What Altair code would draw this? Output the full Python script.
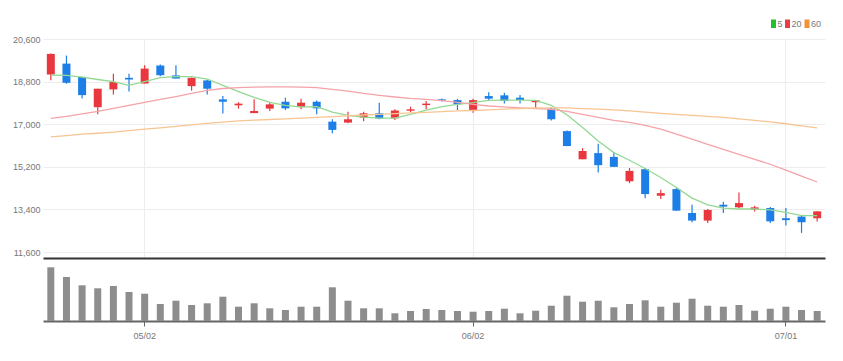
import altair as alt
import pandas as pd

# ---- data ----
dates = ["04/22", "04/25", "04/26", "04/27", "04/28", "04/29", "05/02", "05/03", "05/04", "05/06",
         "05/09", "05/10", "05/11", "05/12", "05/13", "05/16", "05/17", "05/18", "05/19", "05/20",
         "05/23", "05/24", "05/25", "05/26", "05/27", "05/30", "05/31", "06/02", "06/03", "06/07",
         "06/08", "06/09", "06/10", "06/13", "06/14", "06/15", "06/16", "06/17", "06/20", "06/21",
         "06/22", "06/23", "06/24", "06/27", "06/28", "06/29", "06/30", "07/01", "07/04", "07/05"]

open_ = [19100, 19560, 19000, 17720, 18470, 18960, 18720, 19480, 19060, 18610,
         18850, 18050, 17800, 17470, 17660, 17950, 17720, 17950, 17110, 17070,
         17280, 17460, 17250, 17570, 17810, 18050, 18020, 17580, 18190, 18220,
         18120, 17930, 17660, 16710, 15520, 15780, 15620, 14590, 15100, 13980,
         14260, 13250, 12930, 13600, 13490, 13390, 13460, 13030, 13100, 13030]
high = [19990, 19900, 19000, 18500, 19130, 19130, 19490, 19520, 19490, 18970,
        18880, 18190, 17930, 18050, 17930, 18120, 18080, 18000, 17210, 17530,
        17530, 17910, 17630, 17740, 17980, 18090, 18070, 18080, 18350, 18330,
        18230, 18010, 17710, 16740, 15990, 16180, 15830, 15150, 15150, 14230,
        14300, 13600, 13420, 13730, 14120, 13560, 13500, 13460, 13170, 13320]
low = [18860, 18710, 18090, 17420, 18260, 18380, 18720, 19030, 18930, 18420,
       18260, 17450, 17660, 17470, 17560, 17600, 17630, 17420, 16620, 17040,
       17130, 17210, 17180, 17510, 17630, 17960, 17600, 17490, 17980, 17880,
       17880, 17660, 17160, 16070, 15520, 14960, 15190, 14510, 13870, 13840,
       13340, 12860, 12830, 13250, 13460, 13310, 12830, 12720, 12410, 12890]
close = [19970, 18750, 18230, 18500, 18780, 18890, 19350, 19070, 18930, 18960,
         18500, 17950, 17870, 17560, 17840, 17670, 17910, 17670, 16760, 17210,
         17460, 17240, 17580, 17630, 17870, 17990, 17840, 18020, 18080, 17980,
         18020, 18010, 17210, 16080, 15870, 15270, 15200, 15030, 14050, 14090,
         13350, 12930, 13380, 13520, 13670, 13490, 12900, 12950, 12860, 13320]
volume = [537000, 440000, 357000, 327000, 350000, 290000, 273000, 170000, 203000, 160000,
          177000, 243000, 143000, 177000, 127000, 110000, 143000, 143000, 337000, 203000,
          127000, 127000, 77000, 100000, 120000, 110000, 100000, 93000, 100000, 123000,
          77000, 103000, 153000, 253000, 193000, 203000, 137000, 170000, 207000, 143000,
          183000, 223000, 153000, 143000, 160000, 103000, 123000, 143000, 110000, 100000]
ma5 = [19080, 19060, 18990, 18890, 18800, 18640, 18800, 18970, 19010, 19010,
       18910, 18640, 18380, 18130, 17920, 17800, 17730, 17740, 17510, 17370,
       17300, 17260, 17260, 17420, 17600, 17740, 17840, 17910, 18010, 18020,
       18020, 18010, 17800, 17400, 16860, 16290, 15800, 15480, 15130, 14750,
       14330, 13880, 13590, 13460, 13420, 13420, 13380, 13280, 13140, 13140]
ma20 = [17250, 17330, 17440, 17540, 17670, 17800, 17920, 18050, 18170, 18300,
        18430, 18510, 18550, 18570, 18580, 18580, 18570, 18550, 18470, 18400,
        18300, 18220, 18150, 18090, 18050, 18000, 17920, 17840, 17770, 17730,
        17690, 17660, 17630, 17540, 17420, 17290, 17160, 17080, 16950, 16790,
        16580, 16370, 16150, 15940, 15730, 15520, 15310, 15060, 14810, 14560]
ma60 = [16470, 16520, 16580, 16620, 16670, 16730, 16790, 16850, 16910, 16970,
        17040, 17090, 17140, 17170, 17200, 17230, 17260, 17290, 17320, 17350,
        17390, 17420, 17450, 17480, 17500, 17530, 17560, 17580, 17610, 17640,
        17660, 17690, 17690, 17690, 17660, 17640, 17610, 17560, 17510, 17460,
        17420, 17370, 17330, 17290, 17230, 17160, 17100, 17020, 16930, 16850]

ma_names = ["5", "20", "60"]
y_ticks = [11600, 13400, 15200, 17000, 18800, 20600]
x_ticks = ["05/02", "06/02", "07/01"]

RED = "#e8383d"
BLUE = "#1c7ee6"
LINE_COLORS = ["#93d993", "#f4a3a8", "#f7c592"]
LEGEND_COLORS = ["#22c02a", "#ef3a45", "#f39232"]
FONT = "Liberation Sans Narrow, Liberation Sans, Arial, sans-serif"

df = pd.DataFrame({"date": dates, "open": open_, "high": high, "low": low,
                   "close": close, "volume": volume})
ma_df = pd.concat([
    pd.DataFrame({"date": dates, "ma": name, "value": vals})
    for name, vals in zip(ma_names, [ma5, ma20, ma60])
])

W = 782
xscale = alt.Scale(paddingInner=0, paddingOuter=0)
yscale = alt.Scale(domain=[11350, 20600], nice=False, zero=False)

x_axis_price = alt.Axis(values=x_ticks, labels=False, ticks=False, domain=True,
                        domainColor="#333333", domainWidth=2, grid=True,
                        gridColor="#ededed", gridWidth=1, title=None)
y_axis = alt.Axis(values=y_ticks, format=",d", domain=False, ticks=False, grid=True,
                  gridColor="#ededed", labelFont=FONT, labelFontSize=9,
                  labelColor="#777777", labelPadding=3, title=None)


def xp():
    return alt.X("date:O", sort=dates, scale=xscale, axis=x_axis_price, title=None)


def yp(field):
    return alt.Y(field, scale=yscale, axis=y_axis, title=None)


candle_color = alt.condition("datum.close >= datum.open", alt.value(RED), alt.value(BLUE))

wick = alt.Chart(df).mark_rule(strokeWidth=1.2).encode(
    x=xp(), y=yp("low:Q"), y2="high:Q", color=candle_color,
)
body = alt.Chart(df).mark_bar(width=8).encode(
    x=xp(), y=yp("open:Q"), y2="close:Q", color=candle_color,
)
lines = alt.Chart(ma_df).mark_line(strokeWidth=1.3).encode(
    x=xp(), y=yp("value:Q"),
    stroke=alt.Stroke("ma:N", sort=ma_names,
                      scale=alt.Scale(domain=ma_names, range=LINE_COLORS), legend=None),
)

# small legend above the top-right corner of the price panel
legend_layers = []
leg_x = [728, 742, 761.5]
for name, col, lx in zip(ma_names, LEGEND_COLORS, leg_x):
    ldf = pd.DataFrame({"ma": [name]})
    legend_layers.append(
        alt.Chart(ldf).mark_rect(color=col).encode(
            x=alt.value(lx), x2=alt.value(lx + 5), y=alt.value(-19.5), y2=alt.value(-11)))
    legend_layers.append(
        alt.Chart(ldf).mark_text(align="left", baseline="middle", font=FONT, fontSize=9,
                                 color="#777777").encode(
            x=alt.value(lx + 6.5), y=alt.value(-15), text="ma:N"))

price = alt.layer(wick, body, lines, *legend_layers).properties(width=W, height=219)

vol = alt.Chart(df).mark_bar(width=7, color="#8d8d8d").encode(
    x=alt.X("date:O", sort=dates, scale=xscale, title=None,
            axis=alt.Axis(values=x_ticks, labelAngle=0, labelFont=FONT, labelFontSize=9,
                          labelColor="#777777", tickSize=5, tickColor="#666666",
                          domainColor="#666666", domainWidth=2, grid=False,
                          labelPadding=5)),
    y=alt.Y("volume:Q", scale=alt.Scale(domain=[0, 590000], nice=False), axis=None),
).properties(width=W, height=59)

chart = alt.vconcat(price, vol, spacing=4).properties(
    padding={"left": 4, "top": 11, "right": 5, "bottom": 5}
).configure_view(stroke=None)

chart.save("out.html", embed_options={"renderer": "svg", "actions": False})
